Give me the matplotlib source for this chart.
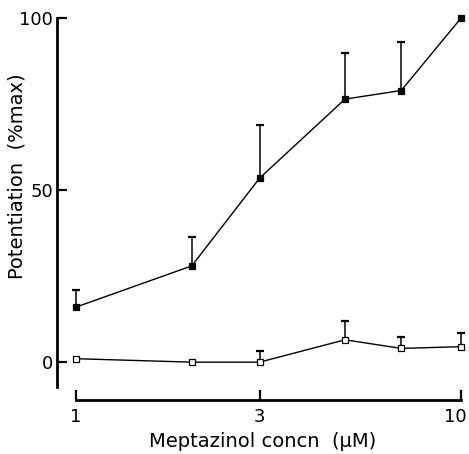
import numpy as np
import matplotlib
matplotlib.use("Agg")
import matplotlib.pyplot as plt
from matplotlib.transforms import ScaledTranslation

# Meptazinol concentration (uM)
concn = [1, 2, 3, 5, 7, 10]

# filled squares: mean and upper error (% max)
filled_mean = [16, 28, 53.5, 76.5, 79, 100]
filled_err = [5, 8.5, 15.5, 13.5, 14, 0]

# open squares
open_mean = [1, 0, 0, 6.5, 4, 4.5]
open_err = [0, 0, 3.2, 5.5, 3.3, 4]

x_ticks = [1, 3, 10]
x_ticklabels = ["1", "3", "10"]
y_ticks = [0, 50, 100]

plt.rcParams['font.family'] = ['DejaVu Sans']

fig = plt.figure(figsize=(4.69, 4.54), dpi=100)
ax = fig.add_axes([0.1215, 0.119, 0.8785, 0.8634])


def draw_series(mean, err, face, size):
    x = np.array(concn, dtype=float)
    m = np.array(mean, dtype=float)
    e = np.array(err, dtype=float)
    has = e > 0
    # upper error bars only
    ax.vlines(x[has], m[has], m[has] + e[has], color="black", lw=1.1, zorder=2)
    ax.plot(x[has], m[has] + e[has], ls="none", marker="_", ms=6,
            mew=1.6, color="black", zorder=2)
    ax.plot(x, m, color="black", lw=1.0, marker="s", ms=size,
            mfc=face, mec="black", mew=0.9, zorder=3)


draw_series(filled_mean, filled_err, "black", 4.5)
draw_series(open_mean, open_err, "white", 4)

ax.set_xscale("log")
ax.set_xlim(0.893, 10.5)
ax.set_ylim(-11, 103)

ax.spines["top"].set_visible(False)
ax.spines["right"].set_visible(False)
ax.spines["left"].set_linewidth(2)
ax.spines["bottom"].set_linewidth(2)
ax.spines["left"].set_bounds(-7.3, 100)
ax.spines["bottom"].set_bounds(1, 10)

ax.set_xticks(x_ticks)
ax.set_xticklabels(x_ticklabels)
ax.xaxis.set_minor_locator(matplotlib.ticker.NullLocator())
ax.set_yticks(y_ticks)

ax.tick_params(axis="x", direction="in", length=7, width=1.6, labelsize=13, pad=6)
ax.tick_params(axis="y", direction="in", length=7, width=1.6, labelsize=13, pad=3)

# nudge the "10" so it stays inside the picture
last = ax.get_xticklabels()[-1]
last.set_transform(last.get_transform() + ScaledTranslation(-4 / 72, 0, fig.dpi_scale_trans))

ax.set_xlabel("Meptazinol concn  (\u03bcM)", fontsize=14)
ax.set_ylabel("Potentiation  (%max)", fontsize=14)
ax.xaxis.set_label_coords(0.5, -0.082)
ax.yaxis.set_label_coords(-0.073, 0.571)

fig.savefig("out.png", dpi=100)
